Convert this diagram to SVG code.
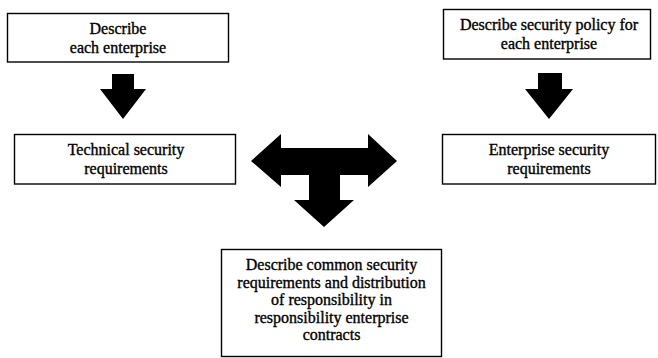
<svg xmlns="http://www.w3.org/2000/svg" width="658" height="358" viewBox="0 0 658 358">
  <style>
    .box { fill: #ffffff; stroke: #000000; stroke-width: 1.4; }
    .lbl { font-size: 16px; fill: #000000; text-anchor: middle; stroke: #000000; stroke-width: 0.35; }
    .arrow { fill: #000000; stroke: none; }
  </style>
  <rect width="658" height="358" fill="#ffffff"/>

  <g font-family="'Liberation Serif', 'Times New Roman', 'DejaVu Serif', serif">
  <g id="describe-enterprise">
    <rect class="box" x="7.5" y="13.5" width="221" height="48.5"/>
    <text class="lbl" x="118" y="34">Describe</text>
    <text class="lbl" x="118" y="53">each enterprise</text>
  </g>

  <g id="describe-policy">
    <rect class="box" x="443.5" y="9.5" width="207" height="49.5"/>
    <text class="lbl" x="549" y="30">Describe security policy for</text>
    <text class="lbl" x="549" y="48.5">each enterprise</text>
  </g>

  <g id="technical-requirements">
    <rect class="box" x="14.5" y="134.5" width="221" height="49.5"/>
    <text class="lbl" x="126" y="155">Technical security</text>
    <text class="lbl" x="126" y="173.5">requirements</text>
  </g>

  <g id="enterprise-requirements">
    <rect class="box" x="442.5" y="134.5" width="213" height="49.5"/>
    <text class="lbl" x="549" y="155">Enterprise security</text>
    <text class="lbl" x="549" y="173.5">requirements</text>
  </g>

  <g id="common-requirements">
    <rect class="box" x="221.5" y="249.5" width="220" height="107"/>
    <text class="lbl" x="331.5" y="270">Describe common security</text>
    <text class="lbl" x="331.5" y="287.5">requirements and distribution</text>
    <text class="lbl" x="331.5" y="305">of responsibility in</text>
    <text class="lbl" x="331.5" y="322.5">responsibility enterprise</text>
    <text class="lbl" x="331.5" y="340">contracts</text>
  </g>
  </g>

  <g id="connectors">
    <!-- block arrow: enterprise description down to technical requirements -->
    <polygon class="arrow" points="112,74 134,74 134,89 146,89 123,119 100,89 112,89"/>
    <!-- block arrow: security policy down to enterprise requirements -->
    <polygon class="arrow" points="538,73 562,73 562,89 573,89 549,119 525,89 538,89"/>
    <!-- T-shaped block arrow: both requirement sets into the common description -->
    <polygon class="arrow" points="251,161 281,134 281,148 368,148 368,134 397,161 368,187 368,175 340,175 340,200 354,200 324,227 294,200 309,200 309,175 281,175 281,187"/>
  </g>
</svg>
